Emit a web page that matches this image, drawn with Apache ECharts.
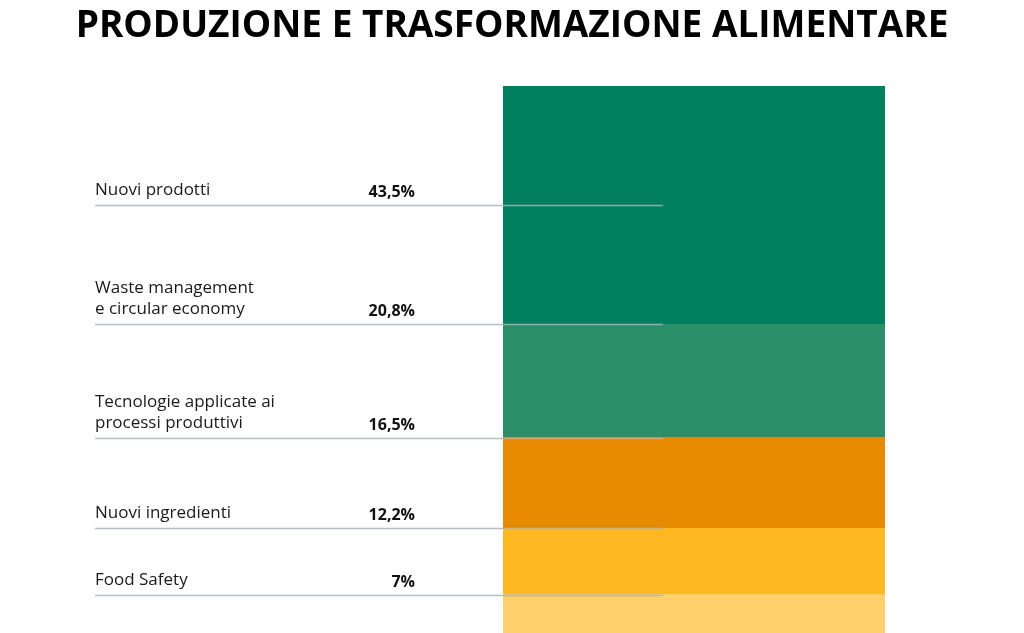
<!DOCTYPE html>
<html>
<head>
<meta charset="utf-8">
<script src="https://cdn.jsdelivr.net/npm/echarts@6/dist/echarts.min.js"></script>
<style>html,body{margin:0;padding:0;background:#fff}#c{width:1024px;height:633px}</style>
</head>
<body>
<div id="c"></div>
<script>
const titleText = 'PRODUZIONE E TRASFORMAZIONE ALIMENTARE';
const categories = ['Nuovi prodotti', 'Waste management\ne circular economy', 'Tecnologie applicate ai\nprocessi produttivi', 'Nuovi ingredienti', 'Food Safety'];
const values = [43.5, 20.8, 16.5, 12.2, 7];
const colors = ['#007f5f', '#2b8f6a', '#e88a00', '#ffb822', '#ffd06b'];

const fmt = v => String(v).replace('.', ',') + '%';
// label guide positions: first at middle of its segment, others at the top edge of their segment (as in the source design)
const cum = [];
values.reduce((s, v, i) => { cum[i] = s; return s + v; }, 0);
const guidePos = values.map((v, i) => i === 0 ? v / 2 : cum[i]);
const labelData = values.map((v, i) => [guidePos[i], categories[i], fmt(v)]);

const FONT = '"Open Sans", "Noto Sans", sans-serif';
const chart = echarts.init(document.getElementById('c'), null, {renderer: 'canvas'});
chart.setOption({
  animation: false,
  backgroundColor: '#fff',
  title: {
    text: titleText, left: 'center', top: 3,
    textStyle: {fontFamily: FONT, fontSize: 37, fontWeight: 'bold', color: '#000'}
  },
  grid: [
    {left: 503, right: 139, top: 86, bottom: 0},
    {left: 95, width: 568, top: 86, bottom: 0}
  ],
  xAxis: [
    {gridIndex: 0, type: 'category', data: ['x'], show: false},
    {gridIndex: 1, type: 'value', min: 0, max: 1, show: false}
  ],
  yAxis: [
    {gridIndex: 0, type: 'value', min: 0, max: 100, inverse: true, show: false},
    {gridIndex: 1, type: 'value', min: 0, max: 100, inverse: true, show: false}
  ],
  series: values.map((v, i) => ({
    type: 'bar', stack: 'all', xAxisIndex: 0, yAxisIndex: 0,
    barWidth: '100%', data: [v],
    itemStyle: {color: colors[i]}, z: 2
  })).concat([{
    type: 'custom', xAxisIndex: 1, yAxisIndex: 1, z: 10,
    data: labelData,
    encode: {x: -1, y: 0},
    renderItem: function (params, api) {
      const pos = api.value(0);
      const p0 = api.coord([0, pos]);
      const p1 = api.coord([1, pos]);
      const pr = api.coord([0.5634, pos]);
      const d = labelData[params.dataIndex];
      const y = Math.round(p0[1]) + 0.5;
      return {
        type: 'group',
        children: [
          {type: 'line', shape: {x1: p0[0], y1: y, x2: p1[0], y2: y},
           style: {stroke: '#a9b2ba', lineWidth: 1.5, opacity: 0.85}},
          {type: 'text', x: p0[0], y: y - 5,
           style: {text: d[1], fontFamily: FONT, fontSize: 17, lineHeight: 21,
                   fill: '#1a1a1a', align: 'left', verticalAlign: 'bottom'}},
          {type: 'text', x: pr[0], y: y - 5,
           style: {text: d[2], fontFamily: FONT, fontSize: 16, fontWeight: 'bold',
                   fill: '#111', align: 'right', verticalAlign: 'bottom'}}
        ]
      };
    }
  }])
});
</script>
</body>
</html>
